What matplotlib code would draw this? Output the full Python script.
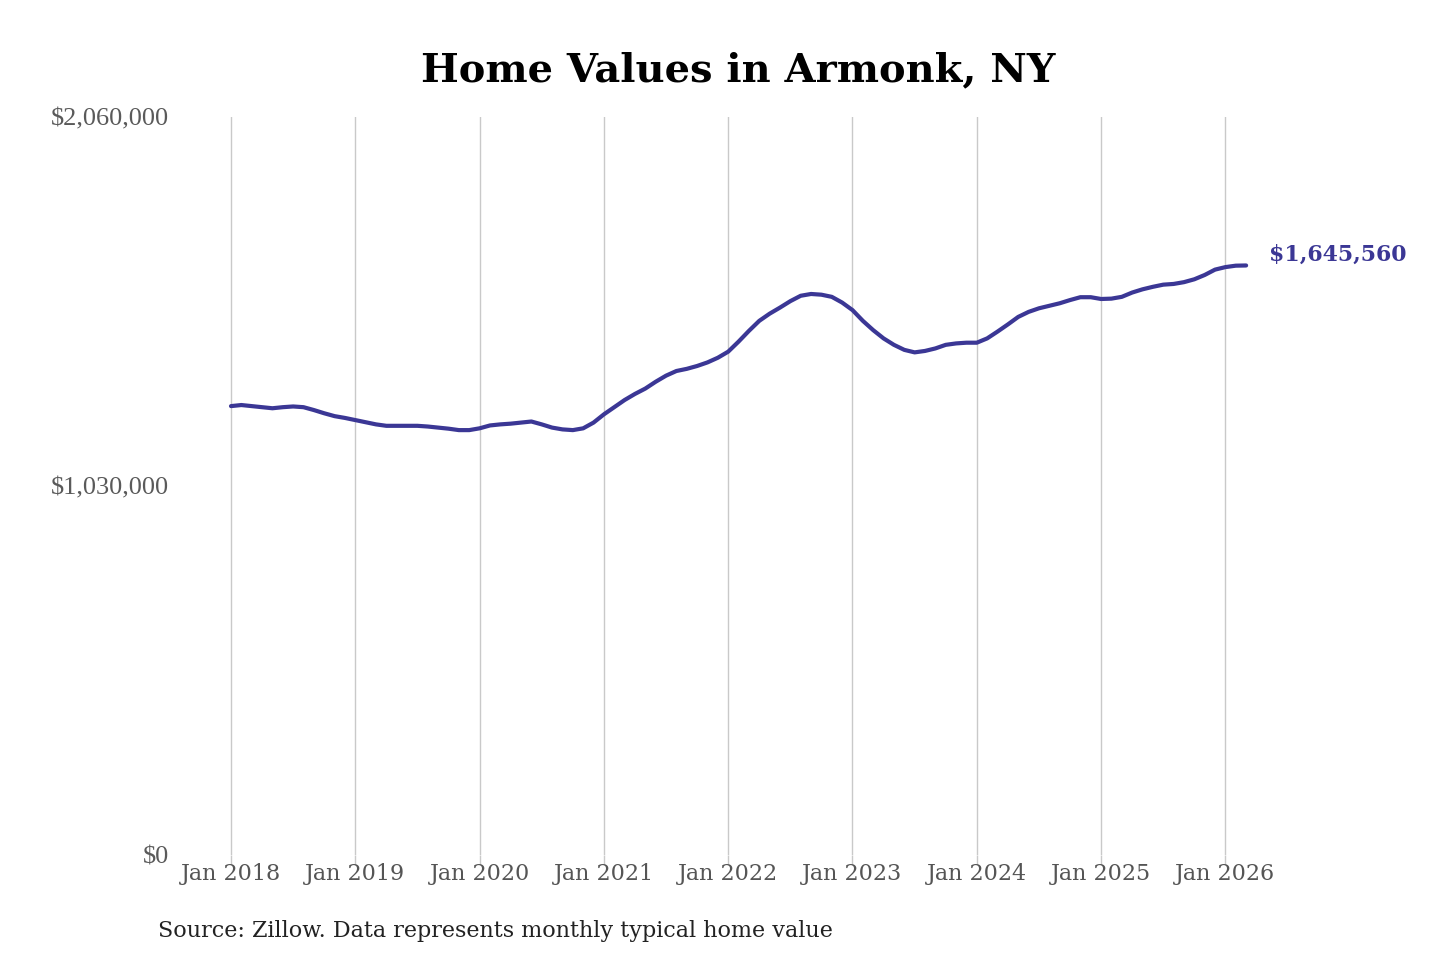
import numpy as np
import matplotlib
matplotlib.use("Agg")
import matplotlib.pyplot as plt
from matplotlib.ticker import FuncFormatter

# monthly typical home value, Jan 2018 .. Mar 2026
VALUES = [
    1253000, 1256000, 1253000, 1250000, 1247000, 1250000, 1252000, 1250000, 1242000, 1233000, 1225000, 1220000,  # 2018
    1214000, 1208000, 1202000, 1198000, 1198000, 1198000, 1198000, 1196000, 1193000, 1190000, 1186000, 1186000,  # 2019
    1191000, 1199000, 1202000, 1204000, 1207000, 1210000, 1202000, 1193000, 1188000, 1186000, 1191000, 1207000,  # 2020
    1230000, 1250000, 1270000, 1287000, 1302000, 1321000, 1338000, 1351000, 1357000, 1365000, 1375000, 1388000,  # 2021
    1405000, 1433000, 1463000, 1491000, 1511000, 1528000, 1546000, 1561000, 1566000, 1564000, 1558000, 1542000,  # 2022
    1521000, 1491000, 1465000, 1442000, 1424000, 1410000, 1403000, 1407000, 1414000, 1424000, 1428000, 1430000,  # 2023
    1430000, 1442000, 1461000, 1481000, 1502000, 1516000, 1526000, 1533000, 1540000, 1549000, 1557000, 1557000,  # 2024
    1552000, 1553000, 1558000, 1570000, 1579000, 1586000, 1592000, 1594000, 1599000, 1607000, 1619000, 1634000,  # 2025
    1641000, 1645000, 1645560,  # 2026
]
YEARS = list(range(2018, 2027))
TICK_LABELS = ["Jan %d" % y for y in YEARS]
Y_TICKS = [0, 1030000, 2060000]

LINE_COLOR = "#3b3795"
GRID_COLOR = "#c9c9c9"
TEXT_GRAY = "#555555"

fig = plt.figure(figsize=(14.4, 9.6), dpi=100)
# axes placed in pixel terms: x 180..1260, y 117..855
ax = fig.add_axes([180 / 1440, 1 - 855 / 960, 1080 / 1440, 738 / 960])

months = np.arange(len(VALUES))
ax.plot(months, VALUES, color=LINE_COLOR, lw=3, solid_capstyle="round",
        solid_joinstyle="round", zorder=3)

px_per_month = 124.3 / 12
ax.set_xlim((180 - 231) / px_per_month, (1260 - 231) / px_per_month)
ax.set_ylim(0, 2060000)

ax.set_xticks([12 * i for i in range(len(YEARS))])
ax.set_xticklabels(TICK_LABELS, family="DejaVu Serif", fontsize=16, color=TEXT_GRAY)
ax.tick_params(axis="x", length=7, width=1, color=GRID_COLOR, pad=-1)
ax.grid(axis="x", color=GRID_COLOR, lw=1)
ax.set_axisbelow(True)

ax.set_yticks(Y_TICKS)
ax.yaxis.set_major_formatter(FuncFormatter(lambda v, p: "${:,.0f}".format(v)))
ax.tick_params(axis="y", length=0, pad=8)
for lab in ax.get_yticklabels():
    lab.set_family("Liberation Serif")
    lab.set_fontsize(19)
    lab.set_color("#5a5a5a")

for s in ax.spines.values():
    s.set_visible(False)

# end label
ax.annotate("${:,.0f}".format(VALUES[-1]), xy=(months[-1], VALUES[-1]),
            xytext=(16.5, 8), textcoords="offset points",
            family="DejaVu Serif", fontweight="bold", fontsize=15.8,
            color=LINE_COLOR, va="center", ha="left")

fig.text(738 / 1440, 1 - 70 / 960, "Home Values in Armonk, NY",
         family="DejaVu Serif", fontweight="bold", fontsize=28.8,
         ha="center", va="center", color="#000000")
fig.text(158 / 1440, 1 - 931 / 960, "Source: Zillow. Data represents monthly typical home value",
         family="DejaVu Serif", fontsize=16, ha="left", va="center", color="#222222")

fig.savefig("out.png", dpi=100, facecolor="white")
